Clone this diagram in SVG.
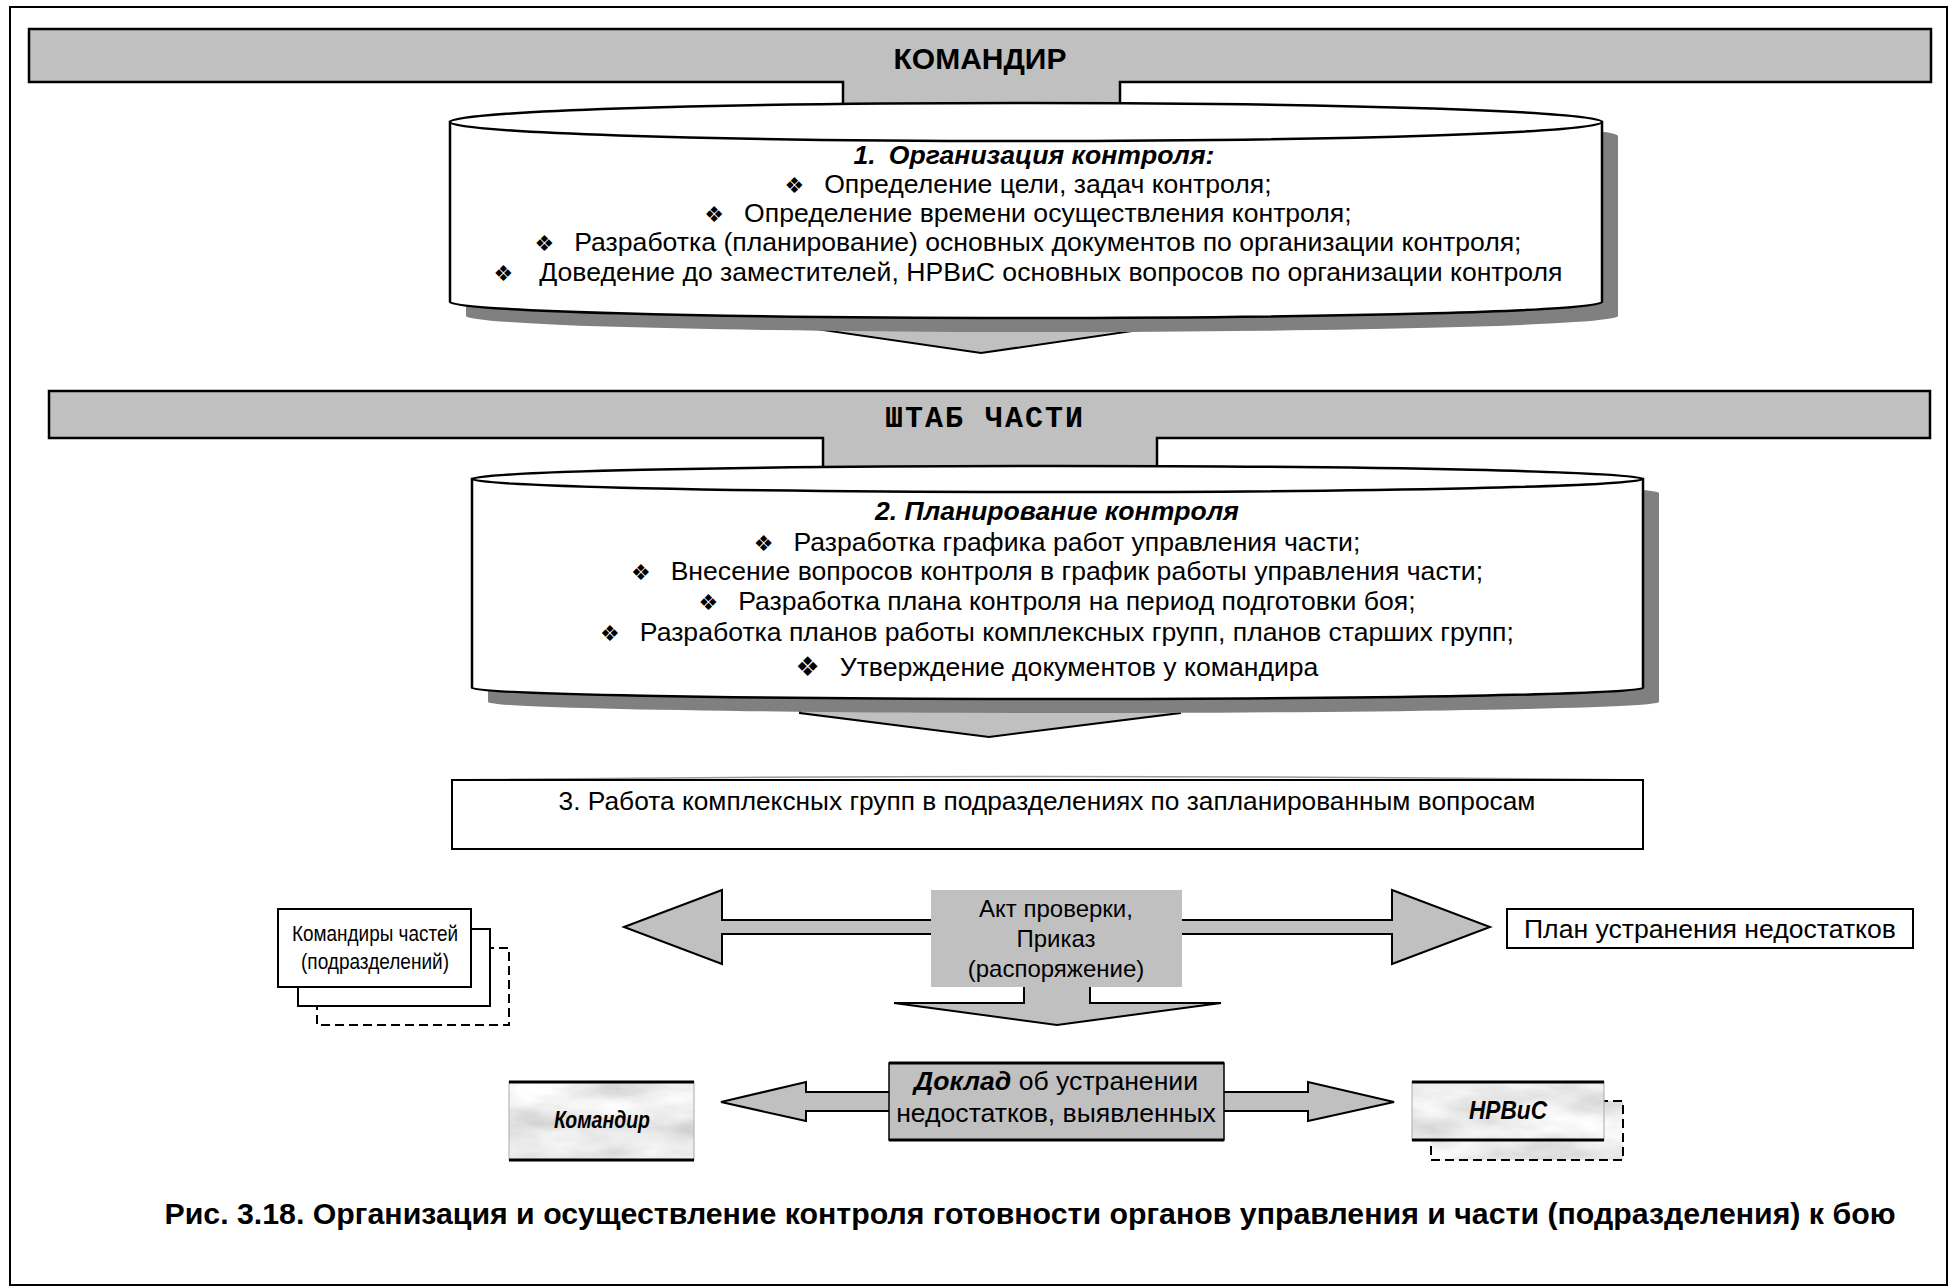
<svg xmlns="http://www.w3.org/2000/svg" width="1950" height="1287" viewBox="0 0 1950 1287">
<defs>
<style>
.t{font-family:"Liberation Sans",Arial,sans-serif;font-size:26.6px;fill:#000}
.bi{font-weight:bold;font-style:italic}
.b{font-weight:bold}
.bul{font-family:"DejaVu Sans",sans-serif;font-size:22px}
.mono{font-family:"Liberation Mono","Courier New",monospace;font-weight:bold;font-size:30px;letter-spacing:2px}
.bar{fill:#c0c0c0;stroke:#000;stroke-width:2.5}
.cyl{fill:#fff;stroke:#000;stroke-width:2.5}
.sh{fill:#808080}
.arr{fill:#c0c0c0;stroke:#000;stroke-width:2}
.box{fill:#fff;stroke:#000;stroke-width:2}
.dash{fill:#fff;stroke:#000;stroke-width:2;stroke-dasharray:9 5}
.edge{stroke:#000;stroke-width:3}
</style>
<filter id="marble" x="0" y="0" width="1" height="1">
<feTurbulence type="fractalNoise" baseFrequency="0.012 0.035" numOctaves="4" seed="7" result="n"/>
<feColorMatrix in="n" type="matrix" values="0.55 0 0 0 0.57  0.55 0 0 0 0.57  0.55 0 0 0 0.57  0 0 0 0 1" result="g"/>
<feComposite in="g" in2="SourceGraphic" operator="in"/>
</filter>
</defs>
<rect x="0" y="0" width="1950" height="1287" fill="#fff"/>
<rect x="10" y="7" width="1937" height="1278" fill="none" stroke="#000" stroke-width="2"/>

<g id="connectors">
<polygon class="arr" points="795,300 1167,300 1167,326 981,353 795,326"/>
<polygon class="arr" points="800,690 1180,690 1180,713 989,737 800,713"/>
<polygon class="arr" points="624,927 722,890 722,920 1392,920 1392,890 1490,927 1392,964 1392,934 722,934 722,964"/>
<polygon class="arr" points="1024,980 1090,980 1090,1003 1221,1003 1057,1025 894,1003 1024,1003"/>
<polygon class="arr" points="721,1102 806,1082 806,1092 1308,1092 1308,1082 1394,1102 1308,1121 1308,1111 806,1111 806,1121"/>
</g>

<g id="komandir">
<polygon class="bar" points="29,29 1931,29 1931,82 1120,82 1120,115 843,115 843,82 29,82"/>
<text class="t b" x="980" y="69" style="font-size:30px" text-anchor="middle">КОМАНДИР</text>
</g>

<g id="org-kontrolya">
<path class="sh" d="M466,136 A576,19 0 0 1 1618,136 L1618,316 A576,16 0 0 1 466,316 Z"/>
<path class="cyl" d="M450,122 L450,302 A576,16 0 0 0 1602,302 L1602,122 Z"/>
<ellipse class="cyl" cx="1026" cy="122" rx="576" ry="19"/>
<text class="t bi" x="1034" y="164" text-anchor="middle">1.<tspan dx="13">Организация контроля:</tspan></text>
<text class="t" x="1028" y="193" text-anchor="middle"><tspan class="bul">❖</tspan><tspan dx="20">Определение цели, задач контроля;</tspan></text>
<text class="t" x="1028" y="222" text-anchor="middle"><tspan class="bul">❖</tspan><tspan dx="20">Определение времени осуществления контроля;</tspan></text>
<text class="t" x="1028" y="251" text-anchor="middle"><tspan class="bul">❖</tspan><tspan dx="20">Разработка (планирование) основных документов по организации контроля;</tspan></text>
<text class="t" x="1028" y="281" text-anchor="middle"><tspan class="bul">❖</tspan><tspan dx="26">Доведение до заместителей, НРВиС основных вопросов по организации контроля</tspan></text>
</g>

<g id="shtab">
<polygon class="bar" points="49,391 1930,391 1930,438 1157,438 1157,475 823,475 823,438 49,438"/>
<text class="mono" x="985" y="427" text-anchor="middle">ШТАБ ЧАСТИ</text>
</g>

<g id="plan-kontrolya">
<path class="sh" d="M488,493 A585.5,13 0 0 1 1659,493 L1659,702 A585.5,11 0 0 1 488,702 Z"/>
<path class="cyl" d="M472,479 L472,688 A585.5,11 0 0 0 1643,688 L1643,479 Z"/>
<ellipse class="cyl" cx="1057.5" cy="479" rx="585.5" ry="13"/>
<text class="t bi" x="1057" y="520" text-anchor="middle">2. Планирование контроля</text>
<text class="t" x="1057" y="551" text-anchor="middle"><tspan class="bul">❖</tspan><tspan dx="20">Разработка графика работ управления части;</tspan></text>
<text class="t" x="1057" y="580" text-anchor="middle"><tspan class="bul">❖</tspan><tspan dx="20">Внесение вопросов контроля в график работы управления части;</tspan></text>
<text class="t" x="1057" y="610" text-anchor="middle"><tspan class="bul">❖</tspan><tspan dx="20">Разработка плана контроля на период подготовки боя;</tspan></text>
<text class="t" x="1057" y="641" text-anchor="middle"><tspan class="bul">❖</tspan><tspan dx="20">Разработка планов работы комплексных групп, планов старших групп;</tspan></text>
<text class="t" x="1057" y="676" text-anchor="middle"><tspan class="bul" style="font-size:27px">❖</tspan><tspan dx="20">Утверждение документов у командира</tspan></text>
</g>

<g id="rabota">
<path d="M452,780 Q1047,773 1643,780" fill="none" stroke="#999" stroke-width="1.5"/>
<rect class="box" x="452" y="780" width="1191" height="69"/>
<text class="t" x="1047" y="810" style="font-size:26.3px" text-anchor="middle">3. Работа комплексных групп в подразделениях по запланированным вопросам</text>
</g>

<g id="komandiry-chastey">
<rect class="dash" x="317" y="948" width="192" height="77"/>
<rect class="box" x="298" y="929" width="192" height="77"/>
<rect class="box" x="278" y="909" width="193" height="78"/>
<text class="t" x="375" y="941" style="font-size:22px" text-anchor="middle" textLength="166" lengthAdjust="spacingAndGlyphs">Командиры частей</text>
<text class="t" x="375" y="969" style="font-size:22px" text-anchor="middle" textLength="148" lengthAdjust="spacingAndGlyphs">(подразделений)</text>
</g>

<g id="akt">
<rect x="931" y="890" width="251" height="97" fill="#c0c0c0"/>
<text class="t" x="1056" y="917" style="font-size:24px" text-anchor="middle">Акт проверки,</text>
<text class="t" x="1056" y="947" style="font-size:24px" text-anchor="middle">Приказ</text>
<text class="t" x="1056" y="977" style="font-size:24px" text-anchor="middle">(распоряжение)</text>
</g>

<g id="plan-ustraneniya">
<rect class="box" x="1507" y="909" width="406" height="39"/>
<text class="t" x="1710" y="938" text-anchor="middle">План устранения недостатков</text>
</g>

<g id="komandir-bottom">
<rect x="509" y="1082" width="185" height="78" fill="#fff" filter="url(#marble)"/>
<rect x="509" y="1082" width="185" height="78" fill="none" stroke="#aaa" stroke-width="1"/>
<line class="edge" x1="509" y1="1082" x2="694" y2="1082"/>
<line class="edge" x1="509" y1="1160" x2="694" y2="1160"/>
<text class="t bi" x="602" y="1128" style="font-size:24px" text-anchor="middle" textLength="96" lengthAdjust="spacingAndGlyphs">Командир</text>
</g>

<g id="doklad">
<rect x="889" y="1063" width="335" height="77" fill="#c0c0c0" stroke="#000" stroke-width="1.5"/>
<line class="edge" x1="889" y1="1063" x2="1224" y2="1063"/>
<line class="edge" x1="889" y1="1140" x2="1224" y2="1140"/>
<text class="t" x="1056" y="1090" text-anchor="middle"><tspan class="bi">Доклад</tspan> об устранении</text>
<text class="t" x="1056" y="1122" text-anchor="middle">недостатков, выявленных</text>
</g>

<g id="nrvis">
<rect x="1431" y="1101" width="192" height="59" fill="#fff" filter="url(#marble)"/>
<rect x="1431" y="1101" width="192" height="59" fill="none" stroke="#000" stroke-width="2" stroke-dasharray="9 5"/>
<rect x="1412" y="1082" width="192" height="58" fill="#fff" filter="url(#marble)"/>
<rect x="1412" y="1082" width="192" height="58" fill="none" stroke="#aaa" stroke-width="1"/>
<line class="edge" x1="1412" y1="1082" x2="1604" y2="1082"/>
<line class="edge" x1="1412" y1="1140" x2="1604" y2="1140"/>
<text class="t bi" x="1508" y="1119" style="font-size:26px" text-anchor="middle" textLength="78" lengthAdjust="spacingAndGlyphs">НРВиС</text>
</g>

<text class="t b" x="1030" y="1224" style="font-size:30.3px" text-anchor="middle">Рис. 3.18. Организация и осуществление контроля готовности органов управления и части (подразделения) к бою</text>
</svg>
